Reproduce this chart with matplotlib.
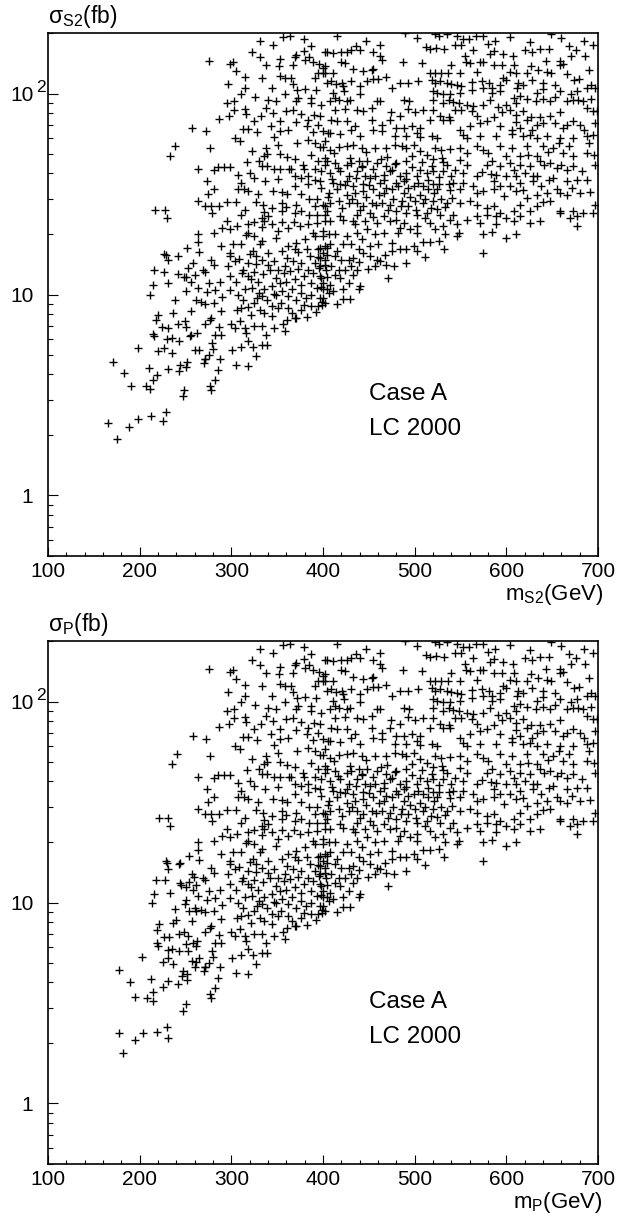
import numpy as np
import matplotlib
matplotlib.use('Agg')
import matplotlib.pyplot as plt
from matplotlib.ticker import MultipleLocator, LogLocator, NullFormatter, FixedLocator

plt.rcParams['font.family'] = ['Liberation Sans', 'DejaVu Sans']
plt.rcParams['mathtext.fontset'] = 'custom'
plt.rcParams['mathtext.rm'] = 'Liberation Sans'
plt.rcParams['mathtext.it'] = 'Liberation Sans:italic'
plt.rcParams['mathtext.bf'] = 'Liberation Sans:bold'

# (mass GeV, cross section fb) points common to both panels (mass > ~262 GeV)
shared_pts = [
 (295,23.2),(306,22),(318,22.3),(325,22.9),(336,23.3),(344,22.5),(355,22.9),(368,22.9),(384,22.5),(393,22.7),(402,23.2),
 (290,21.5),(299,21.1),(318,20.3),(333,21.7),(351,20.7),(362,21.5),(375,21.9),(389,20.3),(400,20.7),(264,19.9),(264,18.3),
 (281,20.2),(289,17.5),(302,17.9),(310,17.9),(316,19.7),(325,19.6),(333,18.5),(331,17.8),(349,19),(362,17.4),(370,18.1),
 (380,18.8),(391,19.6),(395,16.8),(404,17.1),(369,16.8),(355,16.4),(340,16.1),(324,16.4),
 (265,16.3),(298,16),(320,15.9),(278,14.9),(281,14.1),(269,13.3),(298,15.5),(304,14.6),(296,13.8),(313,13.3),(318,14.4),
 (325,13),(333,14.9),(340,14.1),(347,14.6),(351,13.3),(358,13.8),(367,14.6),(376,14.4),(384,13.3),(391,14.4),(402,14.9),(271,13),
 (264,10.8),(273,10.3),(276,11.4),(282,10.5),(288,11.5),(298,12.3),(305,11.6),(318,12.3),(329,11.6),(322,10.8),(336,10.6),
 (344,11),(353,11.4),(360,11.6),(369,11.9),(376,11.2),(387,11.4),(398,12.1),(404,10.6),(298,10.5),(307,9.9),(315,10.6),
 (333,9.8),(355,10.4),(362,9.8),(376,10.2),(387,10),(400,9.6),
 (267,9.2),(271,9),(281,9.1),(290,9.7),(289,8.3),(278,7.65),(311,8.6),(318,8.7),(325,9.1),(331,8.4),(336,8.1),(344,8.8),
 (351,8.6),(362,8.6),(371,7.65),(382,7.7),(376,8.4),(387,8.75),(395,8.8),(402,9.1),
 (263,6.45),(271,7.15),(277,7.5),(287,6.9),(289,6.3),(282,6.3),(300,7.1),(304,6.8),(309,7.35),(315,6.8),(316,6.45),
 (325,6.96),(333,6.96),(338,6.3),(347,6.8),(356,7.1),(358,6.6),(361,7.5),(369,7.65),
 (265,5.27),(271,4.8),(276,5),(279,5.75),(280,5.35),(301,5.27),(310,5.5),(318,5.85),(324,5.5),(333,5.6),(339,5.6),(327,4.94),
 (271,4.75),(270,4.55),(288,4.75),(305,4.45),(318,4.4),(277,3.5),(278,3.35),(282,3.76),(285,4.2),
 (308,15.1),(312,12.8),(321,12),(327,14.2),(330,10.2),(335,12.7),(339,9.4),(342,13.2),(346,10.1),(349,12.1),(354,9.1),
 (357,12.8),(364,13.1),(366,10.7),(371,9.4),(373,13.4),(379,12.4),(381,9.6),(386,15.6),(389,12.8),(393,10.8),(396,13.6),
 (399,9.2),(403,13.2),(306,8.4),(313,9.4),(321,7.9),(328,9.6),(344,7.8),(349,9.9),(366,8.1),(379,8.9),(392,8.2),(398,10.9),
 (327,15.6),(361,15.2),(373,16.2),(383,16.9),(395,15.3),
 (364,194),(379,187),(331,182),(387,172),(379,163),(370,156),(402,160),(331,152),(353,149),(369,152),(276,145),(298,140),
 (302,143),(338,138),(352,137),(367,138),(380,146),(389,143),(396,140),(402,137),(315,121),(333,120),(353,122),(358,120),
 (365,120),(391,120),(402,127),(395,127),(296,112),(315,107),(344,107),(367,112),(372,104.6),(380,105),(340,93),(349,92),
 (373,95),(371,91.5),(387,95),(387,90),(398,88),(295,90),(303,91.5),(338,85),(360,81.5),(367,83),(376,79.5),(384,74),
 (315,84),(316,79.5),(303,82.5),(297,77.5),(287,74.5),(325,73),(343,68.7),(353,73),(353,65),(313,66.7),(318,66.7),
 (328,64.7),(272,65),(304,60),(362,66.2),(382,68.7),(395,70),(405,63.7),(384,59),(391,56.8),(400,54),(351,55.7),
 (338,53.6),(277,53.6),(339,50),(330,46.4),(336,48.7),(317,45.7),(333,43.5),(353,50.2),(361,48.3),(369,47.2),(365,42.1),
 (378,44.3),(387,49.6),(395,46),(402,47.8),(379,42.1),(391,42.1),(398,41),(264,42.1),(273,36.9),(281,41.8),(285,43.1),
 (292,43.1),(299,43.1),(307,39.2),(325,38),(339,43.5),(347,42.1),(353,42.1),(363,42.1),(369,38.8),(376,38),(384,38.8),
 (391,37.3),(275,31.6),(281,33.3),(311,35.9),(314,33.5),(307,33.5),(318,32.9),(345,32.9),(355,32.4),(369,34.6),(384,35.3),
 (264,29.1),(271,27.5),(278,27.5),(279,25.5),(286,27.5),(295,28.9),(305,28.9),(327,28.9),(335,28),(336,25.7),(355,28.4),
 (360,27.2),(371,28),(385,29.7),(393,29.9),(402,27.5),(355,26),(369,25.5),(376,26),(385,25),(393,25),(402,25),(311,25),
 (315,26.3),(333,24),(340,24.5),
 (305,130),(322,160),(345,175),(356,190),(385,152),(392,104),(310,100),(326,96),(358,100),(332,77),(345,80),(371,72),
 (390,78),(309,58),(322,52),(346,61),(372,57),(389,64),(320,40),(337,36.5),(351,37.5),(361,31.5),(376,31.8),(398,33.8),
 (329,31.5),(344,27),(391,27.5),
 (415,194),(489,200),(503,189),(522,197),(527,194),(535,197),(546,193),(559,187),(567,194),(574,193),(588,182),(649,197),(685,182),
 (404,160),(411,159),(420,160),(426,160),(431,165),(436,173),(440,165),(447,182),(454,160),(462,175),(512,170),(517,167),
 (523,169),(532,167),(544,175),(551,175),(564,164),(582,158),(586,162),(596,158),(607,153),(620,164),(628,160),(637,167),
 (646,167),(668,172),(670,153),(686,154),(659,145),(555,153),
 (400,134),(400,127),(411,127),(420,143),(424,142),(433,132),(444,129),(453,131),(455,133),(462,153),(464,146),(487,143),
 (508,142),(517,127),(522,127),(529,127),(536,127),(540,138),(549,127),(556,143),(560,142),(568,128),(571,144),(574,144),
 (586,139),(595,139),(608,138),(611,127),(622,127),(634,131),(644,128),(649,127),(658,138),(662,141),(674,117),(679,118),(692,110),
 (404,113),(409,115),(414,111),(421,113),(422,109),(431,116),(440,109),(448,115),(455,118),(460,118),(469,121),(484,113),
 (493,113),(504,115),(519,117),(522,113),(528,115),(535,113),(540,111),(546,110),(551,109),(562,114),(573,115),(581,113),
 (584,106),(593,110),(600,117),(613,113),(618,110),(628,117),(640,113),(640,105),(653,110),(677,103),(688,107),(697,107),
 (411,101),(423,103),(413,95),(440,99),(475,106),(520,103),(524,101),(531,99),(539,99),(549,101),(562,104),(575,107),
 (584,101),(593,103),(608,95),(615,97),(633,101),(659,103),
 (408,92),(417,93),(426,92),(429,93),(459,92),(462,92),(488,93),(494,91.5),(520,93),(531,90),(537,93),(542,90.5),(548,90),
 (557,88),(564,86.5),(575,88),(582,93),(591,86),(600,88),(611,90),(622,94),(632,91.5),(640,94),(648,91.5),(666,91.5),
 (673,93),(678,93),(413,83),(424,84),(437,83),(444,81.5),(453,85),(474,80.5),(484,77.5),(493,84),(500,80.5),(509,83),
 (520,82.5),(528,77.5),(537,76.5),(544,83),(551,83),(562,81.5),(568,77.5),(586,76.5),(595,80.5),(604,82.5),(611,78.5),
 (618,81.5),(627,76.5),(637,76.5),(648,77.5),(659,80.5),(688,84.5),(695,81.5),(699,82),
 (397,77.5),(409,74),(415,72.7),(426,72.7),(435,68.7),(453,74),(464,70),(473,73.5),(480,67.5),(488,67.5),(497,68.7),
 (506,67.5),(517,74),(531,74),(539,74),(549,66.2),(560,68.7),(571,71.4),(579,72.7),(593,68.7),(606,66.2),(615,67.5),
 (622,74),(633,70),(640,71.4),(653,71.4),(666,70),(673,72.7),(680,70),(400,65),(408,63.7),(419,63.2),(431,65.7),(440,61.3),
 (455,66.2),(464,65),(479,61.8),(491,61.3),(502,63.7),(506,60.8),(519,61.8),(524,60.1),(553,62.5),(557,60.1),(571,61.3),
 (589,61.3),(606,63.2),(618,61.3),(626,62.5),(633,60.1),(644,61.3),(659,60.1),(673,60.1),(688,61.3),(695,62.5),
 (397,54.3),(402,57.9),(408,52.6),(417,54.3),(426,54.7),(433,55.7),(442,53.6),(457,53.6),(469,53.6),(479,55.7),(486,54.7),
 (491,53.6),(499,55.7),(506,51.6),(513,49.6),(522,53.6),(529,52.2),(539,53),(549,53.6),(557,50.6),(568,54.7),(575,52.6),
 (580,50.6),(593,54.7),(600,48.7),(606,53.6),(615,48.7),(624,49.6),(633,48.7),(640,54.7),(651,53.6),(657,56.8),(662,50.6),
 (673,48.7),(688,50.6),(696,49.6),
 (404,46),(413,45.2),(426,44.3),(431,45.2),(439,46),(442,43.5),(448,46),(459,45.2),(469,43.5),(475,41.8),(480,45.2),
 (491,46),(497,48.7),(506,41.8),(519,43.5),(531,45.5),(535,44.3),(549,46.9),(557,44.3),(568,38.8),(579,44.3),(584,46),
 (593,43.5),(600,38.8),(608,41.8),(615,44.3),(626,43.5),(633,38.8),(641,44.3),(648,45.2),(655,42.6),(666,41.8),(673,43.5),
 (408,40.3),(419,41),(428,38.8),(437,41),(446,38.8),(457,38.8),(466,39.5),(473,41),(484,38.8),(491,40.3),(502,38.8),
 (513,40.3),(520,41),(531,41),(540,38.8),(553,40.3),(573,40.5),(583,39.9),(589,39.1),(611,38.8),(629,38.8),(646,37.3),
 (651,38),(666,36.6),(677,37.3),(688,37.3),
 (397,36.6),(411,35.9),(419,35.3),(426,36.6),(433,34.6),(444,35.3),(451,38),(462,35.9),(469,34),(480,35.9),(488,36.6),
 (499,34.6),(509,34.6),(520,35.3),(526,35.3),(542,35.9),(553,35.9),(564,34.6),(586,36.6),(593,34.6),(604,34.6),(615,35.9),
 (629,36.6),(638,34.6),(659,32),(680,32),(406,32),(415,33.3),(426,31.4),(435,32),(444,32.6),(455,33.3),(466,32),(475,33.3),
 (488,32),(493,34),(506,31.4),(515,33.3),(524,33.3),(539,33),(549,33.3),(568,32),(575,32.6),(586,33.3),(597,30.8),
 (611,32.6),(622,30.2),(633,31.4),(644,32),(666,31.4),
 (400,28),(408,28.6),(417,29.1),(428,28.6),(437,28.6),(444,27.5),(453,28.6),(464,28.6),(473,28),(486,29.1),(493,27.5),
 (500,29.1),(509,28.6),(520,29.1),(524,26.5),(535,28.6),(549,28.6),(560,29.1),(568,28),(579,27),(586,27.5),(593,25.5),
 (608,26),(615,28),(626,26),(633,27.5),(648,29.1),(659,26),(673,26),(404,26),(419,24.5),(437,25),(451,25.5),(466,24.5),
 (480,26),(491,25.5),(502,25),(513,25.5),(528,25),(542,25),(568,24.5),(579,25),(589,24.5),(600,24),(615,24.5),
 (408,23.1),(422,23.6),(433,23.1),(446,23.1),(459,22.7),(473,23.1),(488,22.7),(502,21.9),(517,22.7),(531,21.9),(546,22.3),
 (557,23.6),(571,22.7),(589,22.3),(608,23.1),(626,22.7),(637,23.1),(659,25.5),(669,24),(677,24.5),(684,25.5),(695,25.5),(677,21.9),
 (402,44),(405,30.5),(410,37.6),(416,42.6),(421,27),(424,35),(429,47.5),(432,29.7),(436,38),(440,26.4),(443,43),(447,30.5),
 (450,35.2),(454,42),(458,27.8),(461,31.1),(463,47.2),(467,37),(471,26.2),(476,30),(478,44.6),(482,34.5),(485,27.5),
 (490,37.4),(495,30.5),(497,42.9),(501,26.2),(504,36),(508,45.8),(511,30),(514,37),(518,26.8),(521,32),(527,38.5),
 (529,29.8),(533,27.2),(537,35.5),(541,30.3),(544,41.6),(412,50.3),(447,51),(470,48.5),(530,48),(520,47),(480,23.5),
 (455,24.2),(435,22.4),(511,24),(538,23.6),
 (553,186),(580,176),(604,190),(626,180),(660,189),(676,165),(694,175),(604,128),(627,137),(643,145),(666,125),(690,131),
 (596,120),(612,106),(653,96),(670,99),(684,92),(692,94),(610,72),(628,66),(662,67),(685,66),(697,71),(623,55),(645,51),
 (668,55),(690,57),(604,45),(620,40),(637,46),(660,44),(682,41),(697,44),(618,33),(640,29),(655,33.5),(672,34),(691,32.5),(697,28),
 (400,19.6),(406,20),(413,20),(426,19.6),(437,20.3),(442,18.8),(448,21.1),(457,20),(466,20.3),(475,18.1),(482,20.3),
 (484,21.5),(495,21.2),(502,20.3),(509,18.2),(517,18.2),(526,18.5),(522,21.1),(533,20),(546,19.6),(548,20.3),(574,20),
 (584,20.5),(600,19.2),(611,20),
 (397,17.1),(402,17.4),(408,17.8),(415,16.5),(422,17.8),(431,17.8),(439,16.8),(444,16.1),(451,17.4),(460,17.8),(468,15.8),
 (475,16.5),(484,16.8),(491,16.9),(499,17.4),(502,16.5),(532,16.8),(574,16.1),
 (397,15.2),(400,16.1),(404,15.8),(413,15.5),(420,14.9),(428,14.9),(433,15.2),(439,14.5),(451,15.5),(459,14.9),(462,14.6),
 (469,14.1),(477,13.8),(491,14.3),(511,15.4),(397,13.8),(402,14.1),(409,13.8),(417,13.3),(424,13.3),(431,13.8),(437,13.3),
 (449,13.4),(457,13.8),(397,12.3),(404,12.2),(413,12.5),(419,12.1),(428,11.4),(433,12.5),(440,11),(471,12.1),(400,11.4),
 (408,11.2),(411,10.4),(406,10.2),(400,10.6),(422,10.7),(439,10.6),(397,9.6),(399,8.9),(415,9),(422,9.5),(429,9.5),
]

# low-mass points of the upper panel (m_S2 < ~262 GeV)
s2_low_pts = [
 (165,2.3),(175,1.9),(188,2.2),(198,2.4),(212,2.48),(225,2.36),(229,2.6),
 (171,4.6),(183,4.05),(190.5,3.5),(198.5,5.4),(206.5,3.5),(211,3.4),(210,4.3),(214,3.77),(219,3.97),(231,4.27),
 (243,4.17),(244,4.48),(250,4.35),(252,4.6),(247,3.14),(248.7,3.34),
 (211,10),(215,11.2),(216,13.2),(227,12.9),(229,15.8),(230.5,14.8),(242,15.6),(231,11.4),(238,9.44),(236,8.1),
 (220,7.9),(218,7.5),(224,6.86),(231,6.85),(215,6.36),(216,6.2),(229.5,6.03),(235,6.1),(243,5.9),(227,5.4),(220,5.23),(235,5.1),
 (227,15.9),(252,17.1),(258,14.4),(253,13.5),(260,12.5),(248,12.2),(242,12.6),(250,12.2),(256,11.6),(250,10.4),
 (261,9.4),(256,8.25),(242,7.15),(249,7.35),(251,6.9),(256,6.3),(255,6.2),(260,5.27),
 (217,26.3),(228,26.3),(230,24),(239,54.7),(233,49),(257,67),
]

# low-mass points of the lower panel (m_P < ~262 GeV)
p_low_pts = [
 (177,2.25),(182,1.78),(195,2.06),(204,2.25),(219,2.27),(229.5,2.39),(231,2.11),
 (177,4.6),(189.5,4.0),(195,3.4),(203,5.35),(212,4.15),(207.7,3.36),(214,3.58),(215,3.25),(225,3.8),(231,4.06),
 (225,5.08),(230.5,5.3),(236.7,4.95),(242,3.94),(246,4.3),(252,4.4),(252,4.1),(247.6,2.9),(251,3.13),
 (213,10),(216,11),(218,13),(228,12.9),(229.5,15.7),(231,14.7),(243,15.5),(233,11.2),(238.5,9.3),(236,7.9),
 (221,7.8),(219,7.3),(226.5,6.7),(232,6.7),(218.5,6.3),(220,6.1),(230.5,5.8),(235.6,5.9),(243,5.75),(248.7,7.1),
 (243,7.0),(253,6.8),(251,6.2),(253,5.75),(257.4,5.1),(261,5.05),(257,8.1),(254,9.1),(249.5,9.8),(251,10.3),
 (245,12.2),(251,11.9),(254,12.6),(257,13.9),(259,13.4),(261,12.2),(261,9.1),(261,6.1),
 (244,12.5),(254,17),(229,16),(221,26.3),(231,26.3),(233,24),(241,54.7),(235,49),(258,67),(244,15.8),
 (247,4.55),(260,4.8),(258,6.3),(240,8.2),(260,9.4),(258,11.6),
]

m_S2 = np.array([p[0] for p in s2_low_pts + shared_pts])
sigma_S2 = np.array([p[1] for p in s2_low_pts + shared_pts])
m_P = np.array([p[0] for p in p_low_pts + shared_pts])
sigma_P = np.array([p[1] for p in p_low_pts + shared_pts])

x_ticks = [100, 200, 300, 400, 500, 600, 700]
y_ticks = [1, 10, 100]
y_ticklabels = ['1', '10', '10']

W, H = 618, 1216
fig = plt.figure(figsize=(W / 100, H / 100), dpi=100)


def panel(top_px, m, s, ylab, xlab):
    ax = fig.add_axes([48 / W, (H - (top_px + 523)) / H, 550 / W, 523 / H])
    ax.plot(m, s, linestyle='none', marker='+', color='black', ms=5.5, mew=1.0)
    ax.set_yscale('log')
    ax.set_xlim(100, 700)
    ax.set_ylim(0.5, 200)
    ax.xaxis.set_major_locator(FixedLocator(x_ticks))
    ax.xaxis.set_minor_locator(MultipleLocator(20))
    ax.yaxis.set_major_locator(FixedLocator(y_ticks))
    ax.yaxis.set_minor_locator(LogLocator(base=10, subs=np.arange(2, 10), numticks=30))
    ax.yaxis.set_minor_formatter(NullFormatter())
    ax.set_yticklabels(y_ticklabels)
    ax.tick_params(axis='x', which='major', direction='in', length=6.5, width=0.8,
                   labelsize=15, pad=4.5, top=False)
    ax.tick_params(axis='x', which='minor', direction='in', length=3.1, width=0.8, top=False)
    ax.tick_params(axis='y', which='major', direction='in', length=7.2, width=0.8,
                   labelsize=15, pad=10.5, right=False)
    ax.tick_params(axis='y', which='minor', direction='in', length=3.6, width=0.8, right=False)
    for sp in ax.spines.values():
        sp.set_linewidth(1.2)
    ax.annotate('2', xy=(0, 100), xycoords=('axes fraction', 'data'),
                xytext=(-8.8, 0.8), textcoords='offset points',
                ha='left', va='baseline', fontsize=12.5)
    ax.text(450, 3.0, 'Case A', fontsize=17.5, ha='left', va='baseline')
    ax.text(450, 2.0, 'LC 2000', fontsize=17.5, ha='left', va='baseline')
    fig.text(48 / W, 1 - (top_px - 10) / H, ylab, fontsize=16.5, ha='left', va='baseline')
    fig.text(603 / W, 1 - (top_px + 567) / H, xlab, fontsize=16, ha='right', va='baseline')
    return ax


panel(33, m_S2, sigma_S2, r'$\mathrm{σ_{S2}(fb)}$', r'$\mathrm{m_{S2}(GeV)}$')
panel(641, m_P, sigma_P, r'$\mathrm{σ_{P}(fb)}$', r'$\mathrm{m_{P}(GeV)}$')

fig.savefig('out.png', dpi=100)
